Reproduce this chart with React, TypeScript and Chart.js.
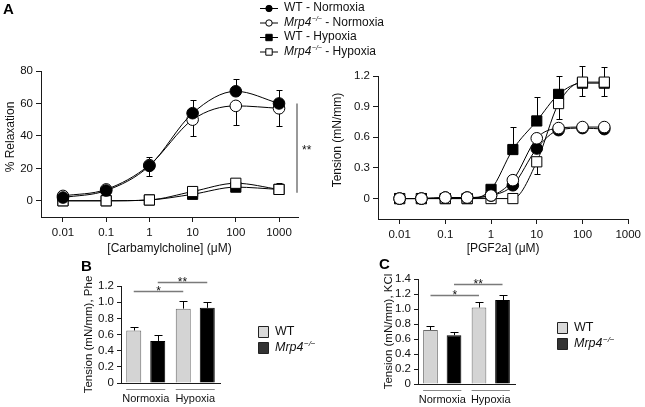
import React, { useEffect, useRef } from 'react';
import { Chart, registerables } from 'chart.js';

Chart.register(...registerables);

const W = 645;
const H = 407;
const FONT = "'Liberation Sans', Arial, Helvetica, sans-serif";
const TXT = '#111';
const AX = '#1a1a1a';
const TICK_SIZE = 11.5;
const TITLE_SIZE = 12;

// ---------------- Panel A (left): carbamylcholine relaxation ----------------
const carbConc = [0.01, 0.1, 1, 10, 100, 1000];
const carbTicks = [0.01, 0.1, 1, 10, 100, 1000];
const carbTickLabels = ['0.01', '0.1', '1', '10', '100', '1000'];
const carbWtNorm = [2, 6.3, 21.5, 54, 67.5, 60];
const carbWtNormHi = [null, null, 27, 62, 75, 68];
const carbKoNorm = [3, 7, 22, 50, 58.5, 57];
const carbKoNormLo = [null, null, 15, 40, 47, 46];
const carbWtHyp = [0, 0, 0.5, 4, 8.4, 7];
const carbKoHyp = [0, 0, 0.5, 5.7, 10.8, 7];
const carbKoHypHi = [null, null, 3.5, null, null, 11];
const relaxTicks = [0, 20, 40, 60, 80];
const relaxSigSpan = [5, 60];

// ---------------- Panel A (right): PGF2a tension ----------------
const pgfConc = [0.01, 0.03, 0.1, 0.3, 1, 3, 10, 30, 100, 300];
const pgfTicks = [0.01, 0.1, 1, 10, 100, 1000];
const pgfTickLabels = ['0.01', '0.1', '1', '10', '100', '1000'];
const pgfWtNorm = [0, 0, 0.01, 0.01, 0.03, 0.13, 0.49, 0.67, 0.69, 0.68];
const pgfKoNorm = [0, 0, 0.01, 0.01, 0.03, 0.18, 0.59, 0.69, 0.7, 0.7];
const pgfKoNormHi = [null, null, null, null, null, 0.23, null, null, null, null];
const pgfWtHyp = [0, 0, 0, 0, 0.09, 0.48, 0.76, 1.02, 1.13, 1.13];
const pgfWtHypHi = [null, null, null, null, null, 0.7, 0.99, 1.2, 1.3, 1.29];
const pgfKoHyp = [0, 0, 0, 0, 0, 0, 0.36, 0.93, 1.14, 1.14];
const pgfKoHypLo = [null, null, null, null, null, null, 0.24, 0.78, 1.0, 1.0];
const tensionTicks = [0, 0.3, 0.6, 0.9, 1.2];
const tensionTickLabels = ['0', '0.3', '0.6', '0.9', '1.2'];

// ---------------- Panels B and C: bars ----------------
const groups = ['Normoxia', 'Hypoxia'];
const barSeries = ['WT', 'Mrp4−/−'];
const pheWt = [0.65, 0.92];
const pheWtErr = [0.69, 1.02];
const pheKo = [0.52, 0.93];
const pheKoErr = [0.59, 1.0];
const pheTicks = [0, 0.2, 0.4, 0.6, 0.8, 1.0, 1.2];
const pheTickLabels = ['0', '0.2', '0.4', '0.6', '0.8', '1.0', '1.2'];
const pheSig = [
  { a: [0, 0], b: [0, 1], at: 1.14, text: '*' },
  { a: [1, 0], b: [1, 1], at: 1.25, text: '**' },
];
const kclWt = [0.72, 1.02];
const kclWtErr = [0.77, 1.09];
const kclKo = [0.65, 1.12];
const kclKoErr = [0.69, 1.19];
const kclTicks = [0, 0.2, 0.4, 0.6, 0.8, 1.0, 1.2, 1.4];
const kclTickLabels = ['0', '0.2', '0.4', '0.6', '0.8', '1.0', '1.2', '1.4'];
const kclSig = [
  { a: [0, 0], b: [0, 1], at: 1.19, text: '*' },
  { a: [1, 0], b: [1, 1], at: 1.33, text: '**' },
];

// ---------------- helpers ----------------
type Area = { l: number; t: number; r: number; b: number };

function layoutFor(area: Area, wy: number, hx: number) {
  return {
    autoPadding: false,
    padding: { left: area.l - wy, top: area.t, right: W - area.r, bottom: H - area.b - hx },
  };
}

function richLabel(ctx: CanvasRenderingContext2D, text: string, x: number, y: number, size: number) {
  ctx.textBaseline = 'middle';
  ctx.textAlign = 'left';
  ctx.fillStyle = TXT;
  const m = text.match(/^(Mrp4)(−\/−)(.*)$/);
  if (!m) {
    ctx.font = `${size}px ${FONT}`;
    ctx.fillText(text, x, y);
    return;
  }
  ctx.font = `italic ${size}px ${FONT}`;
  ctx.fillText(m[1], x, y);
  let cx = x + ctx.measureText(m[1]).width + 0.5;
  ctx.font = `italic ${Math.round(size * 0.6)}px ${FONT}`;
  ctx.fillText(m[2], cx, y - size * 0.3);
  cx += ctx.measureText(m[2]).width;
  ctx.font = `${size}px ${FONT}`;
  ctx.fillText(m[3], cx, y);
}

function marker(ctx: CanvasRenderingContext2D, style: string, x: number, y: number, r: number, fill: string) {
  ctx.beginPath();
  if (style === 'rect') ctx.rect(x - r, y - r, 2 * r, 2 * r);
  else ctx.arc(x, y, r, 0, Math.PI * 2);
  ctx.fillStyle = fill;
  ctx.fill();
  ctx.lineWidth = 1;
  ctx.strokeStyle = '#000';
  ctx.stroke();
}

function drawErr(chart: any, type: string, cap: number) {
  const ctx = chart.ctx;
  const ys = chart.scales.y;
  ctx.save();
  ctx.strokeStyle = '#000';
  ctx.lineWidth = 1;
  chart.data.datasets.forEach((ds: any, di: number) => {
    const meta = chart.getDatasetMeta(di);
    if (meta.type !== type) return;
    meta.data.forEach((el: any, i: number) => {
      [ds.errHi, ds.errLo].forEach((arr: any) => {
        if (!arr || arr[i] == null) return;
        const y2 = Math.round(ys.getPixelForValue(arr[i])) + 0.5;
        const x = Math.round(el.x) + 0.5;
        ctx.beginPath();
        ctx.moveTo(x, el.y);
        ctx.lineTo(x, y2);
        ctx.moveTo(x - cap, y2);
        ctx.lineTo(x + cap, y2);
        ctx.stroke();
      });
    });
  });
  ctx.restore();
}

const errorBarPlugin = {
  id: 'errorBars',
  beforeDatasetsDraw(chart: any) {
    drawErr(chart, 'line', 3);
  },
  afterDatasetsDraw(chart: any) {
    drawErr(chart, 'bar', 4);
  },
};

function letterPlugin(text: string, x: number, y: number) {
  return {
    id: 'letter' + text,
    afterDraw(chart: any) {
      const ctx = chart.ctx;
      ctx.save();
      ctx.font = `bold 15px ${FONT}`;
      ctx.fillStyle = '#000';
      ctx.textAlign = 'left';
      ctx.textBaseline = 'middle';
      ctx.fillText(text, x, y);
      ctx.restore();
    },
  };
}

// y-axis title placed at a given centre (used for the top panels)
function yTitlePlugin(text: string, x: number, y: number) {
  return {
    id: 'ytitle',
    afterDraw(chart: any) {
      const ctx = chart.ctx;
      ctx.save();
      ctx.translate(x, y);
      ctx.rotate(-Math.PI / 2);
      ctx.font = `${TITLE_SIZE}px ${FONT}`;
      ctx.fillStyle = TXT;
      ctx.textAlign = 'center';
      ctx.textBaseline = 'middle';
      ctx.fillText(text, 0, 0);
      ctx.restore();
    },
  };
}

function axisX(min: number, max: number, ticks: number[], labels: string[], title: string, hx: number) {
  return {
    type: 'logarithmic',
    min,
    max,
    bounds: 'data',
    afterBuildTicks: (s: any) => {
      s.ticks = ticks.map((v) => ({ value: v }));
    },
    afterFit: (s: any) => {
      s.height = hx;
    },
    grid: { drawOnChartArea: false, drawTicks: true, tickLength: 5, color: AX, lineWidth: 1 },
    border: { display: true, color: AX, width: 1 },
    ticks: {
      autoSkip: false,
      maxRotation: 0,
      minRotation: 0,
      padding: 4,
      color: TXT,
      font: { family: FONT, size: TICK_SIZE },
      callback: (_v: any, i: number) => labels[i],
    },
    title: { display: true, text: title, color: TXT, font: { family: FONT, size: TITLE_SIZE }, padding: 0 },
  };
}

function axisY(
  min: number,
  max: number,
  ticks: number[],
  labels: string[],
  title: string | null,
  wy: number,
  titleSize = TITLE_SIZE
) {
  return {
    type: 'linear',
    min,
    max,
    afterBuildTicks: (s: any) => {
      s.ticks = ticks.map((v) => ({ value: v }));
    },
    afterFit: (s: any) => {
      s.width = wy;
    },
    grid: { drawOnChartArea: false, drawTicks: true, tickLength: 5, color: AX, lineWidth: 1 },
    border: { display: true, color: AX, width: 1 },
    ticks: {
      autoSkip: false,
      padding: 3,
      color: TXT,
      font: { family: FONT, size: TICK_SIZE },
      callback: (_v: any, i: number) => labels[i],
    },
    title: {
      display: title != null,
      text: title || '',
      color: TXT,
      font: { family: FONT, size: titleSize },
      padding: 0,
    },
  };
}

function series(label: string, xs: number[], ys: number[], style: string, filled: boolean, order: number, extra: any = {}) {
  return {
    label,
    data: xs.map((x, i) => ({ x, y: ys[i] })),
    showLine: true,
    borderColor: '#000',
    borderWidth: 1,
    cubicInterpolationMode: 'monotone',
    pointStyle: style,
    pointRadius: style === 'rect' ? 7.2 : 5.8,
    pointBackgroundColor: filled ? '#000' : '#fff',
    pointBorderColor: '#000',
    pointBorderWidth: 1,
    order,
    ...extra,
  };
}

const common = {
  responsive: false,
  animation: false,
  devicePixelRatio: 1,
  events: [],
};

// ---------------- chart builders ----------------
function buildA1() {
  const area = { l: 41, t: 71, r: 298, b: 217 };
  const legendPlugin = {
    id: 'legendA',
    afterDraw(chart: any) {
      const ctx = chart.ctx;
      ctx.save();
      chart.data.datasets.forEach((ds: any, i: number) => {
        const y = 8 + i * 14.5;
        const x = 269;
        ctx.strokeStyle = '#000';
        ctx.lineWidth = 1;
        ctx.beginPath();
        ctx.moveTo(x - 9, y + 0.5);
        ctx.lineTo(x + 9, y + 0.5);
        ctx.stroke();
        marker(ctx, ds.pointStyle, x, y + 0.5, 3.2, ds.pointBackgroundColor);
        richLabel(ctx, ds.label, x + 15, y, 12);
      });
      ctx.restore();
    },
  };
  const sigPlugin = {
    id: 'sigA',
    afterDraw(chart: any) {
      const ctx = chart.ctx;
      const ys = chart.scales.y;
      const x = chart.chartArea.right - 1;
      ctx.save();
      ctx.strokeStyle = '#777';
      ctx.lineWidth = 1.5;
      ctx.beginPath();
      ctx.moveTo(x, ys.getPixelForValue(relaxSigSpan[1]));
      ctx.lineTo(x, ys.getPixelForValue(relaxSigSpan[0]));
      ctx.stroke();
      ctx.font = `12px ${FONT}`;
      ctx.fillStyle = TXT;
      ctx.textAlign = 'left';
      ctx.textBaseline = 'alphabetic';
      const ym = ys.getPixelForValue((relaxSigSpan[0] + relaxSigSpan[1]) / 2);
      ctx.fillText('**', x + 5, ym + 6);
      ctx.restore();
    },
  };
  return {
    type: 'line',
    data: {
      datasets: [
        series('WT - Normoxia', carbConc, carbWtNorm, 'circle', true, 0, { errHi: carbWtNormHi }),
        series('Mrp4−/− - Normoxia', carbConc, carbKoNorm, 'circle', false, 2, { errLo: carbKoNormLo }),
        series('WT - Hypoxia', carbConc, carbWtHyp, 'rect', true, 3),
        series('Mrp4−/− - Hypoxia', carbConc, carbKoHyp, 'rect', false, 1, { errHi: carbKoHypHi }),
      ],
    },
    options: {
      ...common,
      layout: layoutFor(area, 37, 39),
      plugins: { legend: { display: false }, tooltip: { enabled: false } },
      scales: {
        x: axisX(0.0031, 2750, carbTicks, carbTickLabels, '[Carbamylcholine] (μM)', 39),
        y: axisY(-10, 80, relaxTicks, relaxTicks.map(String), null, 37),
      },
    },
    plugins: [errorBarPlugin, legendPlugin, sigPlugin, letterPlugin('A', 3, 10), yTitlePlugin('% Relaxation', 11, 137)],
  };
}

function buildA2() {
  const area = { l: 378, t: 76, r: 634, b: 219 };
  return {
    type: 'line',
    data: {
      datasets: [
        series('WT - Normoxia', pgfConc, pgfWtNorm, 'circle', true, 1),
        series('Mrp4−/− - Normoxia', pgfConc, pgfKoNorm, 'circle', false, 0, { errHi: pgfKoNormHi }),
        series('WT - Hypoxia', pgfConc, pgfWtHyp, 'rect', true, 3, { errHi: pgfWtHypHi }),
        series('Mrp4−/− - Hypoxia', pgfConc, pgfKoHyp, 'rect', false, 2, { errLo: pgfKoHypLo }),
      ],
    },
    options: {
      ...common,
      layout: layoutFor(area, 48, 37),
      plugins: { legend: { display: false }, tooltip: { enabled: false } },
      scales: {
        x: axisX(0.00337, 1000, pgfTicks, pgfTickLabels, '[PGF2a] (μM)', 37),
        y: axisY(-0.2, 1.2, tensionTicks, tensionTickLabels, null, 48),
      },
    },
    plugins: [errorBarPlugin, yTitlePlugin('Tension (mN/mm)', 338, 140)],
  };
}

function buildBar(
  area: Area,
  wy: number,
  yMax: number,
  ticks: number[],
  labels: string[],
  title: string,
  wt: number[],
  wtErr: number[],
  ko: number[],
  koErr: number[],
  sig: any[],
  letter: [string, number, number],
  legendX: number,
  legendY: number
) {
  const decoPlugin = {
    id: 'barDeco',
    afterDraw(chart: any) {
      const ctx = chart.ctx;
      const ys = chart.scales.y;
      const m0 = chart.getDatasetMeta(0);
      const m1 = chart.getDatasetMeta(1);
      ctx.save();
      // group underlines
      ctx.strokeStyle = '#8a8a8a';
      ctx.lineWidth = 1;
      groups.forEach((_g, gi) => {
        const e0 = m0.data[gi];
        const e1 = m1.data[gi];
        const y = chart.chartArea.bottom + 6.5;
        ctx.beginPath();
        ctx.moveTo(e0.x - e0.width / 2, y);
        ctx.lineTo(e1.x + e1.width / 2, y);
        ctx.stroke();
      });
      // significance lines
      sig.forEach((s) => {
        const ea = chart.getDatasetMeta(s.a[0]).data[s.a[1]];
        const eb = chart.getDatasetMeta(s.b[0]).data[s.b[1]];
        const y = Math.round(ys.getPixelForValue(s.at)) + 0.5;
        ctx.strokeStyle = '#7a7a7a';
        ctx.lineWidth = 1.5;
        ctx.beginPath();
        ctx.moveTo(ea.x, y);
        ctx.lineTo(eb.x, y);
        ctx.stroke();
        ctx.font = `12px ${FONT}`;
        ctx.fillStyle = TXT;
        ctx.textAlign = 'center';
        ctx.textBaseline = 'alphabetic';
        ctx.fillText(s.text, (ea.x + eb.x) / 2, y + 3.5);
      });
      // legend
      chart.data.datasets.forEach((ds: any, i: number) => {
        const y = legendY + i * 16;
        ctx.beginPath();
        ctx.rect(legendX + 0.5, y - 5.5, 10, 11);
        ctx.fillStyle = ds.legendFill;
        ctx.fill();
        ctx.strokeStyle = '#222';
        ctx.lineWidth = 1;
        ctx.stroke();
        richLabel(ctx, ds.label, legendX + 17, y, 12.5);
      });
      ctx.restore();
    },
  };
  return {
    type: 'bar',
    data: {
      labels: groups,
      datasets: [
        {
          label: barSeries[0],
          data: wt,
          errHi: wtErr,
          backgroundColor: '#d4d4d4',
          borderColor: '#6a6a6a',
          borderWidth: 1,
          legendFill: '#d9d9d9',
          categoryPercentage: 0.97,
          barPercentage: 0.625,
        },
        {
          label: barSeries[1],
          data: ko,
          errHi: koErr,
          backgroundColor: '#000',
          borderColor: '#000',
          borderWidth: 1,
          legendFill: '#333',
          categoryPercentage: 0.97,
          barPercentage: 0.625,
        },
      ],
    },
    options: {
      ...common,
      layout: layoutFor(area, wy, H - area.b),
      plugins: { legend: { display: false }, tooltip: { enabled: false } },
      scales: {
        x: {
          type: 'category',
          offset: true,
          afterFit: (s: any) => {
            s.height = H - area.b;
          },
          grid: { drawOnChartArea: false, drawTicks: false },
          border: { display: true, color: AX, width: 1 },
          ticks: {
            autoSkip: false,
            maxRotation: 0,
            minRotation: 0,
            padding: 9,
            color: TXT,
            font: { family: FONT, size: 11 },
          },
        },
        y: {
          ...axisY(0, yMax, ticks, labels, title, wy, 11.5),
          grid: { drawOnChartArea: false, drawTicks: true, tickLength: 4, color: AX },
        },
      },
    },
    plugins: [errorBarPlugin, decoPlugin, letterPlugin(letter[0], letter[1], letter[2])],
  };
}

function buildB() {
  return buildBar(
    { l: 121, t: 286, r: 220, b: 383 },
    39,
    1.2,
    pheTicks,
    pheTickLabels,
    'Tension (mN/mm), Phe',
    pheWt,
    pheWtErr,
    pheKo,
    pheKoErr,
    pheSig,
    ['B', 81, 267],
    258,
    332
  );
}

function buildC() {
  return buildBar(
    { l: 418, t: 279, r: 515, b: 384 },
    36,
    1.4,
    kclTicks,
    kclTickLabels,
    'Tension (mN/mm), KCl',
    kclWt,
    kclWtErr,
    kclKo,
    kclKoErr,
    kclSig,
    ['C', 379, 265],
    557,
    328
  );
}

function Panel({ build }: { build: () => any }) {
  const ref = useRef<HTMLCanvasElement>(null);
  useEffect(() => {
    const chart = new Chart(ref.current as HTMLCanvasElement, build());
    return () => chart.destroy();
  }, [build]);
  return (
    <canvas
      ref={ref}
      width={W}
      height={H}
      style={{ position: 'absolute', left: 0, top: 0, width: W, height: H }}
    />
  );
}

export default function App() {
  return (
    <div style={{ position: 'absolute', left: 0, top: 0, width: W, height: H, background: '#fff', overflow: 'hidden' }}>
      <Panel build={buildA1} />
      <Panel build={buildA2} />
      <Panel build={buildB} />
      <Panel build={buildC} />
    </div>
  );
}
